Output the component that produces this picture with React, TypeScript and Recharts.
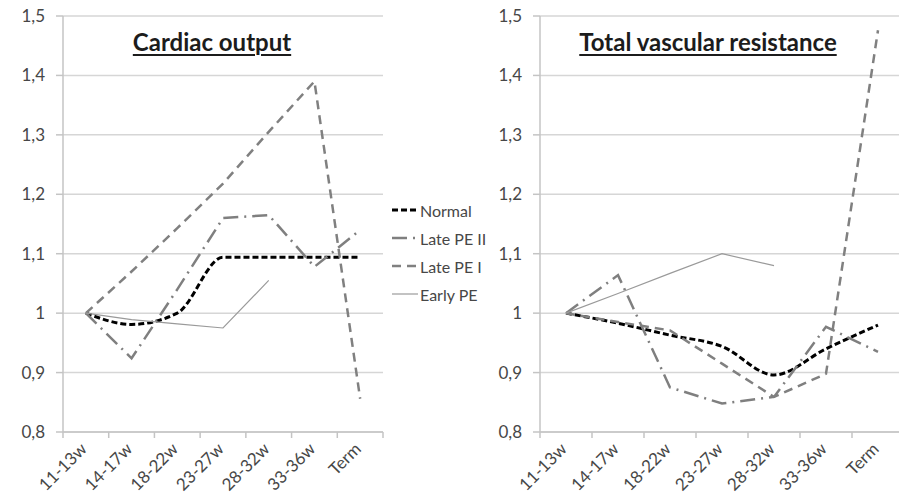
import { CartesianGrid, Line, LineChart, XAxis, YAxis } from 'recharts';

const weeks = ['11-13w', '14-17w', '18-22w', '23-27w', '28-32w', '33-36w', 'Term'];

// cardiac output, relative to 11-13w
const coNormal = [1.0, 0.981, 1.0, 1.094, 1.094, 1.094, 1.094];
const coLatePE2 = [1.0, 0.924, 1.04, 1.16, 1.165, 1.078, 1.14];
const coLatePE1 = [1.0, 1.07, 1.143, 1.218, 1.305, 1.39, 0.856];
const coEarlyPE = [1.0, 0.989, 0.982, 0.975, 1.055, null, null];

// total vascular resistance, relative to 11-13w
const tvrNormal = [1.0, 0.983, 0.963, 0.944, 0.896, 0.94, 0.98];
const tvrLatePE2 = [1.0, 1.064, 0.875, 0.848, 0.859, 0.977, 0.935];
const tvrLatePE1 = [1.0, 0.985, 0.971, 0.915, 0.859, 0.898, 1.476];
const tvrEarlyPE = [1.0, 1.033, 1.067, 1.1, 1.08, null, null];

const yTicks = [0.8, 0.9, 1, 1.1, 1.2, 1.3, 1.4, 1.5];

const FONT = 'Lato, "Open Sans", sans-serif';
const LABEL = '#474747';
const AXIS = '#c4c4c4';

const series = [
  { key: 'normal', name: 'Normal', stroke: '#000', width: 3, dash: '6 3', type: 'monotone' },
  { key: 'late2', name: 'Late PE II', stroke: '#7f7f7f', width: 2.5, dash: '15 6 2 6', type: 'linear' },
  { key: 'late1', name: 'Late PE I', stroke: '#808080', width: 2.5, dash: '9 6', type: 'linear' },
  { key: 'early', name: 'Early PE', stroke: '#9a9a9a', width: 1.2, dash: undefined, type: 'linear' },
] as const;

const toRows = (n: number[], l2: number[], l1: number[], e: (number | null)[]) =>
  weeks.map((w, i) => ({ week: w, normal: n[i], late2: l2[i], late1: l1[i], early: e[i] }));

const coData = toRows(coNormal, coLatePE2, coLatePE1, coEarlyPE);
const tvrData = toRows(tvrNormal, tvrLatePE2, tvrLatePE1, tvrEarlyPE);

function WeekTick(props: any) {
  const { x, y, payload, half } = props;
  const last = payload.value === weeks[weeks.length - 1];
  return (
    <g transform={`translate(${x},${y})`}>
      <line x1={-half} y1={0} x2={-half} y2={6} stroke={AXIS} strokeWidth={1.5} />
      {last && <line x1={half} y1={0} x2={half} y2={6} stroke={AXIS} strokeWidth={1.5} />}
      <text
        x={2}
        y={18}
        transform="rotate(-45 2 18)"
        textAnchor="end"
        fill={LABEL}
        fontSize={17}
        fontFamily={FONT}
      >
        {payload.value}
      </text>
    </g>
  );
}

function Panel({ data, width, plotW }: { data: any[]; width: number; plotW: number }) {
  const half = plotW / 14;
  return (
    <LineChart
      width={width}
      height={498}
      data={data}
      margin={{ top: 16, right: width - 63 - plotW, bottom: 0, left: 0 }}
    >
      <CartesianGrid vertical={false} stroke="#d6d6d6" strokeWidth={1.5} />
      <XAxis
        dataKey="week"
        height={66}
        padding={{ left: half, right: half }}
        stroke={AXIS}
        strokeWidth={1.5}
        tickLine={false}
        tickSize={0}
        tickMargin={0}
        interval={0}
        tick={<WeekTick half={half} />}
      />
      <YAxis
        width={63}
        domain={[0.8, 1.5]}
        ticks={yTicks}
        stroke={AXIS}
        strokeWidth={1.5}
        tickSize={7}
        tickMargin={11}
        tickFormatter={(v: number) => String(v).replace('.', ',')}
        tick={{ fill: LABEL, fontSize: 17, fontFamily: FONT }}
      />
      {series.map((s) => (
        <Line
          key={s.key}
          dataKey={s.key}
          name={s.name}
          type={s.type}
          stroke={s.stroke}
          strokeWidth={s.width}
          strokeDasharray={s.dash}
          dot={false}
          activeDot={false}
          isAnimationActive={false}
        />
      ))}
    </LineChart>
  );
}

const titleStyle = {
  position: 'absolute' as const,
  top: 27,
  textAlign: 'center' as const,
  fontFamily: FONT,
  fontWeight: 700,
  fontSize: 24,
  color: '#1c1c1c',
  textDecoration: 'underline',
  textDecorationThickness: 2,
  textUnderlineOffset: 3,
  whiteSpace: 'nowrap' as const,
};

export default function App() {
  return (
    <div
      style={{
        position: 'absolute',
        left: 0,
        top: 0,
        width: 899,
        height: 498,
        overflow: 'hidden',
        background: '#fff',
      }}
    >
      <div style={{ position: 'absolute', left: 0, top: 0 }}>
        <Panel data={coData} width={400} plotW={320} />
      </div>
      <div style={{ position: 'absolute', left: 477, top: 0 }}>
        <Panel data={tvrData} width={427} plotW={364} />
      </div>
      <div style={{ ...titleStyle, left: 62, width: 300 }}>Cardiac output</div>
      <div style={{ ...titleStyle, left: 558, width: 300 }}>Total vascular resistance</div>
      <div style={{ position: 'absolute', left: 392, top: 196, fontFamily: FONT, fontSize: 16, color: LABEL }}>
        {series.map((s) => (
          <div key={s.key} style={{ display: 'flex', alignItems: 'center', height: 28 }}>
            <svg width={26} height={10} style={{ marginRight: 2 }}>
              <line
                x1={0}
                y1={5}
                x2={26}
                y2={5}
                stroke={s.stroke}
                strokeWidth={s.width}
                strokeDasharray={s.dash}
              />
            </svg>
            <span>{s.name}</span>
          </div>
        ))}
      </div>
    </div>
  );
}
